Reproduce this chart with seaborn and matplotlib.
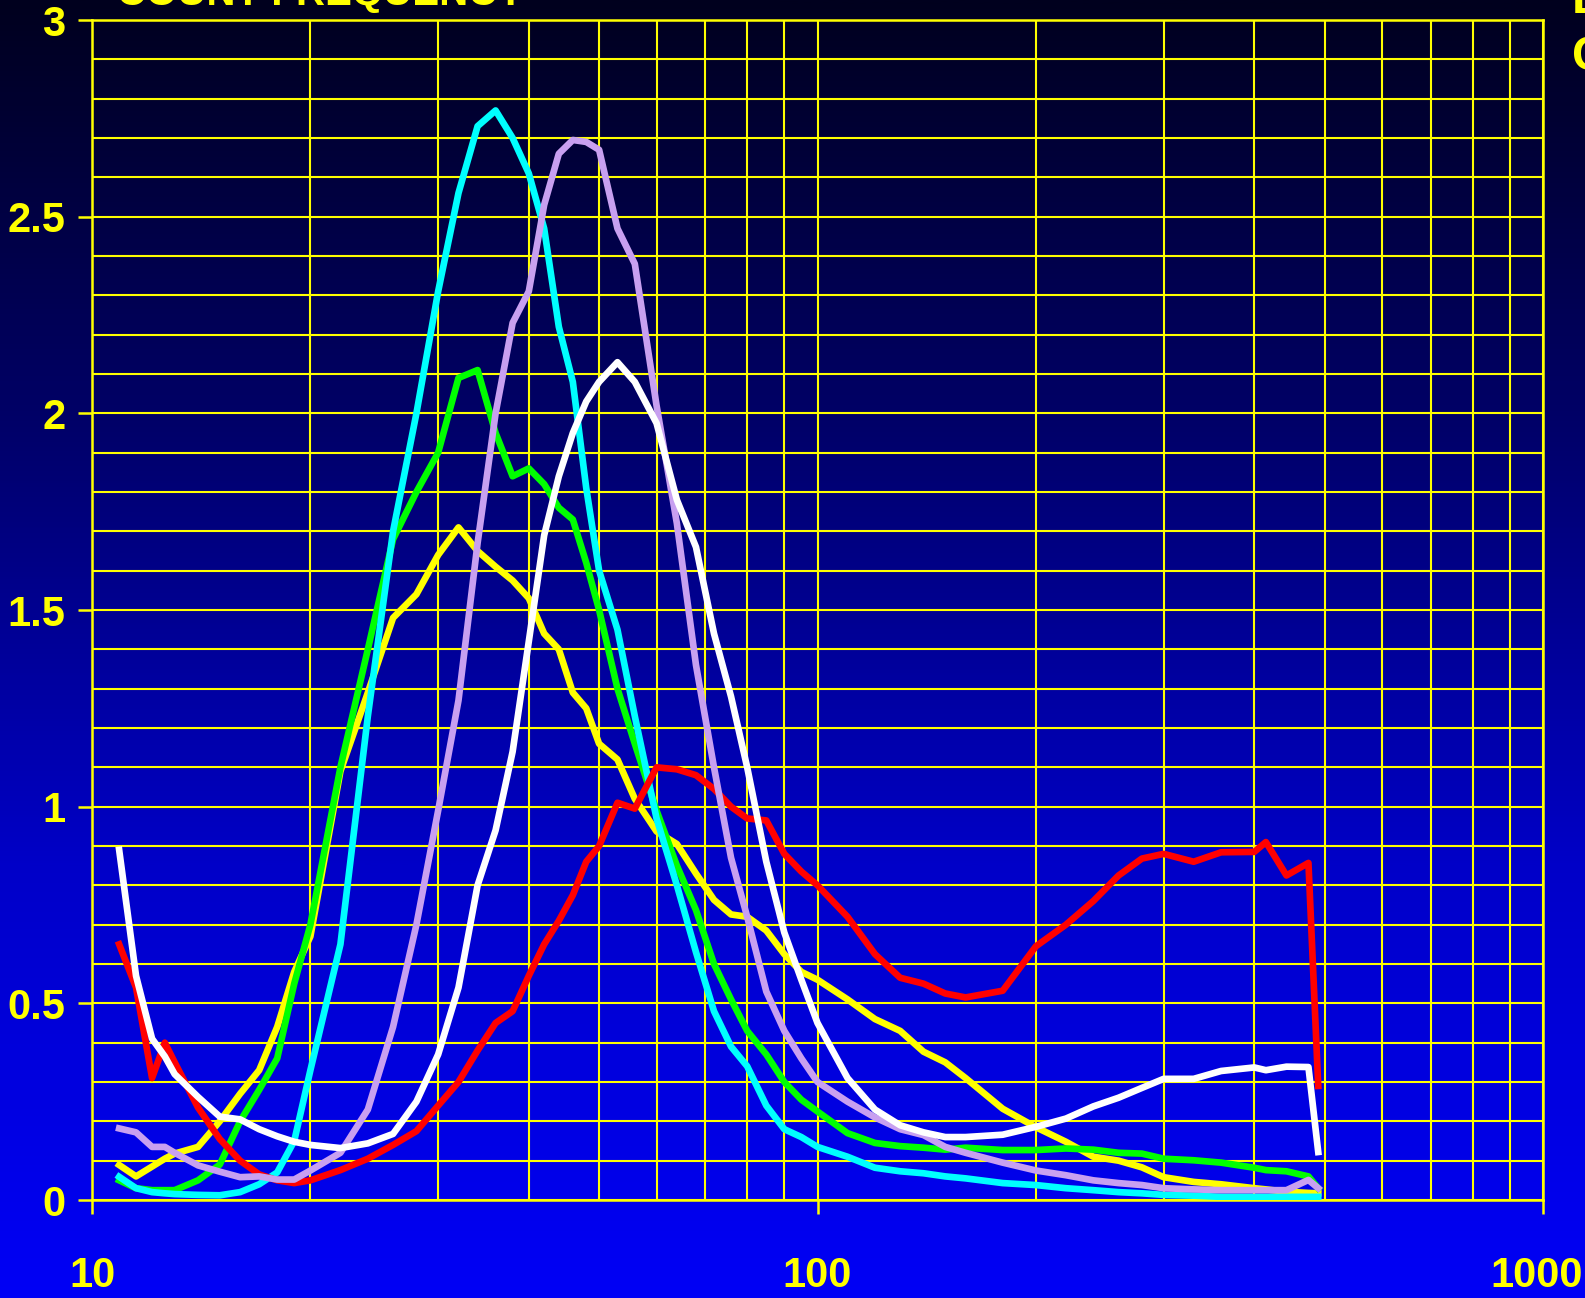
import numpy as np
import pandas as pd
import seaborn as sns
import matplotlib.pyplot as plt
import matplotlib.transforms as mtransforms
from matplotlib.colors import LinearSegmentedColormap
from matplotlib.ticker import LogLocator, NullFormatter, MultipleLocator

# particle size (x axis, log scale)
size = [10.9, 11.5, 12.1, 12.6, 13, 14, 15, 16, 17, 18, 19, 20, 22, 24, 26, 28, 30,
        32, 34, 36, 38, 40, 42, 44, 46, 48, 50, 53, 56, 60, 64, 68, 72, 76, 80, 85,
        90, 95, 100, 110, 120, 130, 140, 150, 160, 180, 200, 220, 240, 260, 280, 300,
        330, 360, 400, 415, 443, 475, 490]

red = [0.65, 0.54, 0.31, 0.40, 0.35, 0.235, 0.155, 0.10, 0.065, 0.05, 0.043, 0.05,
       0.076, 0.105, 0.14, 0.175, 0.24, 0.30, 0.38, 0.45, 0.48, 0.57, 0.65, 0.71,
       0.775, 0.86, 0.90, 1.01, 0.995, 1.10, 1.095, 1.08, 1.045, 1.00, 0.97, 0.965,
       0.88, 0.835, 0.80, 0.72, 0.625, 0.565, 0.55, 0.525, 0.515, 0.532, 0.645, 0.70,
       0.76, 0.825, 0.868, 0.88, 0.86, 0.884, 0.885, 0.91, 0.825, 0.857, 0.29]

white = [0.89, 0.57, 0.41, 0.365, 0.32, 0.262, 0.212, 0.205, 0.18, 0.162, 0.148, 0.14,
         0.132, 0.144, 0.168, 0.25, 0.37, 0.54, 0.80, 0.94, 1.14, 1.42, 1.69, 1.84,
         1.95, 2.03, 2.08, 2.13, 2.08, 1.975, 1.78, 1.66, 1.44, 1.28, 1.10, 0.86,
         0.68, 0.56, 0.45, 0.31, 0.23, 0.19, 0.172, 0.16, 0.16, 0.166, 0.186, 0.207,
         0.238, 0.26, 0.285, 0.308, 0.308, 0.328, 0.337, 0.33, 0.339, 0.338, 0.122]

yellow = [0.089, 0.06, 0.085, 0.105, 0.118, 0.135, 0.20, 0.27, 0.33, 0.44, 0.58, 0.67,
          1.09, 1.29, 1.48, 1.54, 1.64, 1.71, 1.65, 1.61, 1.575, 1.53, 1.44, 1.40,
          1.29, 1.25, 1.16, 1.12, 1.02, 0.937, 0.905, 0.83, 0.763, 0.726, 0.72, 0.685,
          0.625, 0.58, 0.56, 0.51, 0.46, 0.43, 0.377, 0.35, 0.31, 0.232, 0.185, 0.148,
          0.11, 0.10, 0.083, 0.058, 0.046, 0.04, 0.03, 0.027, 0.021, 0.018, 0.017]

green = [0.05, 0.03, 0.025, 0.025, 0.025, 0.05, 0.09, 0.20, 0.28, 0.36, 0.55, 0.70,
         1.10, 1.40, 1.68, 1.80, 1.90, 2.09, 2.11, 1.95, 1.84, 1.86, 1.82, 1.76,
         1.73, 1.62, 1.50, 1.30, 1.16, 0.99, 0.85, 0.737, 0.60, 0.51, 0.43, 0.37,
         0.30, 0.255, 0.225, 0.17, 0.145, 0.137, 0.133, 0.128, 0.133, 0.127, 0.127,
         0.131, 0.128, 0.12, 0.118, 0.105, 0.101, 0.095, 0.082, 0.076, 0.073, 0.06, 0.03]

cyan = [0.059, 0.03, 0.02, 0.017, 0.015, 0.013, 0.012, 0.02, 0.04, 0.07, 0.15, 0.33,
        0.65, 1.23, 1.70, 2.00, 2.31, 2.56, 2.73, 2.77, 2.70, 2.61, 2.47, 2.22,
        2.08, 1.81, 1.60, 1.45, 1.23, 0.97, 0.80, 0.63, 0.48, 0.39, 0.34, 0.24,
        0.18, 0.16, 0.135, 0.11, 0.082, 0.073, 0.068, 0.06, 0.055, 0.043, 0.038,
        0.03, 0.025, 0.02, 0.017, 0.013, 0.011, 0.008, 0.008, 0.008, 0.008, 0.008, 0.008]

lavender = [0.182, 0.172, 0.135, 0.135, 0.12, 0.088, 0.072, 0.058, 0.06, 0.052, 0.052,
            0.075, 0.12, 0.23, 0.44, 0.70, 0.99, 1.27, 1.67, 2.0, 2.23, 2.31, 2.53,
            2.66, 2.695, 2.69, 2.67, 2.47, 2.38, 2.02, 1.72, 1.36, 1.10, 0.87, 0.72,
            0.53, 0.43, 0.36, 0.30, 0.25, 0.21, 0.18, 0.165, 0.135, 0.12, 0.095, 0.075,
            0.063, 0.05, 0.043, 0.038, 0.03, 0.027, 0.025, 0.025, 0.025, 0.025, 0.051, 0.03]

names = ['yellow', 'green', 'cyan', 'red', 'lavender', 'white']
series = [yellow, green, cyan, red, lavender, white]
palette = {'yellow': '#ffff00', 'green': '#00ff00', 'cyan': '#00ffff',
           'red': '#ff0000', 'lavender': '#c8a0f0', 'white': '#ffffff'}

rows = []
for n, s in zip(names, series):
    for xv, yv in zip(size, s):
        rows.append({'size': xv, 'freq': yv, 'run': n})
df = pd.DataFrame(rows)

plt.rcParams['font.family'] = ['Liberation Sans', 'DejaVu Sans']
plt.rcParams['font.weight'] = 'bold'
gold = '#ffff00'

fig = plt.figure(figsize=(15.85, 12.98), dpi=100)

# blue gradient background
bg = fig.add_axes([0, 0, 1, 1], zorder=-10)
cmap = LinearSegmentedColormap.from_list('bg', ['#00001e', '#00006a', '#0000c8', '#0000f6'])
bg.imshow(np.linspace(0, 1, 512).reshape(-1, 1), cmap=cmap, aspect='auto',
          extent=[0, 1, 0, 1], origin='upper')
bg.set_axis_off()

ax = fig.add_axes([92 / 1585, 1 - 1200 / 1298, (1543 - 92) / 1585, (1200 - 20) / 1298])
ax.set_facecolor('none')

for n in names:
    sub = df[df['run'] == n]
    sns.lineplot(data=sub, x='size', y='freq', color=palette[n], linewidth=4.8,
                 sort=False, estimator=None, ax=ax, zorder=3)

ax.set_xscale('log')
ax.set_xlim(10, 1000)
ax.set_ylim(0, 3)
ax.set_xticks([10, 100, 1000], labels=['10', '100', '1000'])
ax.xaxis.set_minor_locator(LogLocator(base=10, subs=np.arange(2, 10)))
ax.xaxis.set_minor_formatter(NullFormatter())
ax.set_yticks([0, 0.5, 1, 1.5, 2, 2.5, 3], labels=['0', '0.5', '1', '1.5', '2', '2.5', '3'])
ax.yaxis.set_minor_locator(MultipleLocator(0.1))

ax.grid(True, which='both', color=gold, linewidth=1.5, zorder=1)
ax.set_axisbelow(True)
for sp in ax.spines.values():
    sp.set_color(gold)
    sp.set_linewidth(1.8)
ax.tick_params(which='major', color=gold, width=1.8, length=10, labelcolor=gold,
               labelsize=30)
ax.tick_params(axis='x', which='major', pad=30)
ax.tick_params(axis='y', which='major', pad=9)
ax.tick_params(which='minor', length=0)
ax.set_xlabel('')
ax.set_ylabel('')

# keep the last x label flush with the right edge of the figure
last = ax.get_xticklabels()[-1]
last.set_transform(last.get_transform() + mtransforms.ScaledTranslation(-6 / 100, 0, fig.dpi_scale_trans))

fig.text(117 / 1585, 1 - 5 / 1298, 'COUNT FREQUENCY', color=gold, fontsize=29,
         fontweight='bold', va='baseline', ha='left')
fig.text(1572 / 1585, 1 - 13 / 1298, 'L', color=gold, fontsize=35,
         fontweight='bold', va='baseline', ha='left')
fig.text(1572 / 1585, 1 - 70 / 1298, 'C', color=gold, fontsize=35,
         fontweight='bold', va='baseline', ha='left')

plt.savefig('out.png', dpi=100)
